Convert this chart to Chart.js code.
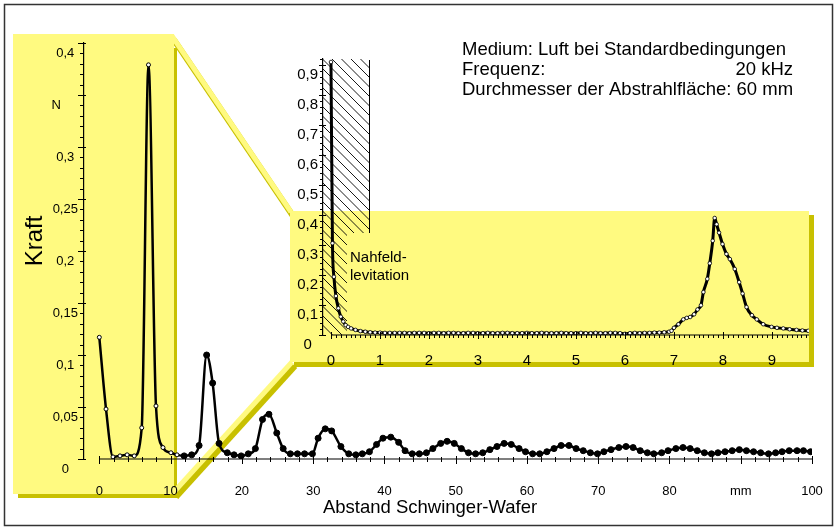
<!DOCTYPE html>
<html><head><meta charset="utf-8">
<script src="https://cdn.jsdelivr.net/npm/chart.js@4"></script>
<style>
html,body{margin:0;padding:0;background:#fff;}
#wrap{position:relative;width:835px;height:527px;overflow:hidden;}
#main{position:absolute;left:0;top:0;}
#inset{position:absolute;left:280px;top:40px;}
</style></head><body>
<div id="wrap"><canvas id="main" width="835" height="527"></canvas><canvas id="inset" width="555" height="340"></canvas></div>
<script>
// ---- main chart data (mm, N) ----
const mainX = [0,0.94,1.92,2.9,3.9,4.9,5.95,6.9,7.95,8.93,10.05,10.9,11.9,12.96,14.0,15.06,15.9,16.8,17.96,18.9,19.9,20.9,21.9,22.9,23.8,24.9,25.8,26.8,27.8,28.8,29.9,30.7,31.7,32.6,33.9,35.0,36.0,36.9,37.9,38.9,39.8,40.9,42.0,42.9,43.9,44.9,45.9,46.8,47.9,48.8,49.8,50.8,51.8,52.8,53.8,54.8,55.8,56.8,57.8,58.9,59.8,60.8,61.8,62.8,63.8,64.8,65.9,66.9,67.9,68.9,69.9,70.8,71.8,72.9,73.9,74.9,75.9,76.9,77.8,78.9,79.8,80.9,81.9,82.9,83.9,84.9,85.9,86.8,87.8,88.8,89.8,90.8,91.8,92.8,93.9,94.9,95.8,96.8,97.9,98.8,99.8];
const mainY = [0.117,0.048,0.002,0.003,0.004,0.003,0.030,0.379,0.051,0.011,0.006,0.004,0.003,0.004,0.013,0.100,0.073,0.015,0.006,0.004,0.003,0.005,0.010,0.038,0.043,0.025,0.010,0.005,0.005,0.005,0.005,0.020,0.029,0.027,0.012,0.005,0.004,0.005,0.007,0.014,0.020,0.021,0.016,0.008,0.005,0.005,0.006,0.010,0.015,0.017,0.015,0.010,0.006,0.005,0.006,0.009,0.012,0.015,0.014,0.010,0.007,0.005,0.005,0.007,0.010,0.013,0.013,0.010,0.008,0.006,0.005,0.007,0.009,0.011,0.012,0.011,0.008,0.006,0.005,0.006,0.008,0.010,0.011,0.010,0.008,0.006,0.005,0.006,0.007,0.008,0.009,0.008,0.007,0.006,0.005,0.006,0.007,0.008,0.008,0.008,0.007];
const mainXTicks = [0,10,20,30,40,50,60,70,80,90,100];
const mainXLabels = ['0','10','20','30','40','50','60','70','80','mm','100'];
const mainYTicks = [0,0.05,0.1,0.15,0.2,0.25,0.3,0.35,0.4];
const mainYLabels = ['0','0,05','0,1','0,15','0,2','0,25','0,3','N     ','0,4'];

// ---- inset data ----
const insetX = [0,0.03,0.06,0.1,0.15,0.2,0.25,0.3,0.35,0.41,0.5,0.6,0.7,0.8,0.9,1.0,1.1,1.2,1.3,1.4,1.5,1.6,1.7,1.8,1.9,2.0,2.1,2.2,2.3,2.4,2.5,2.6,2.7,2.8,2.9,3.0,3.1,3.2,3.3,3.4,3.5,3.6,3.7,3.8,3.9,4.0,4.1,4.2,4.3,4.4,4.5,4.6,4.7,4.8,4.9,5.0,5.1,5.2,5.3,5.4,5.5,5.6,5.7,5.8,5.9,6.0,6.1,6.2,6.3,6.4,6.5,6.6,6.7,6.8,6.9,6.95,7.0,7.09,7.19,7.26,7.33,7.41,7.48,7.55,7.6,7.68,7.73,7.79,7.83,7.87,7.92,7.99,8.07,8.14,8.24,8.33,8.4,8.48,8.59,8.69,8.82,8.99,9.1,9.23,9.36,9.5,9.62,9.74];
const insetY = [0.91,0.306,0.194,0.13,0.089,0.061,0.045,0.033,0.027,0.022,0.017,0.013,0.011,0.009,
0.008,0.008,0.007,0.007,0.007,0.007,0.007,0.006,0.007,0.007,
0.007,0.006,0.007,0.007,0.006,0.007,0.007,0.006,0.006,0.007,
0.007,0.006,0.006,0.007,0.006,0.006,0.007,0.007,0.006,0.006,
0.006,0.007,0.006,0.006,0.007,0.006,0.006,0.006,0.007,0.006,
0.006,0.006,0.007,0.006,0.006,0.007,0.006,0.006,0.007,0.007,
0.006,0.004,0.006,0.007,0.006,0.007,0.007,0.008,0.008,0.009,
0.011,0.014,0.024,
0.036,0.052,0.057,0.060,0.069,0.085,0.099,0.143,0.187,0.239,0.314,0.39,0.369,0.341,0.303,0.270,0.253,0.220,0.176,0.138,0.093,0.066,0.052,0.036,0.027,0.024,0.022,0.019,0.017,0.015,0.014];
const insetXTicks = [0,1,2,3,4,5,6,7,8,9];
const insetXLabels = ['0','1','2','3','4','5','6','7','8','9'];
const insetYTicks = [0,0.1,0.2,0.3,0.4,0.5,0.6,0.7,0.8,0.9];
const insetYLabels = ['0','0,1','0,2','0,3','0,4','0,5','0,6','0,7','0,8','0,9'];

const infoLeft = ['Medium: Luft bei Standardbedingungen','Frequenz:','Durchmesser der Abstrahlfläche: 60 mm'];
const infoRight = ['','20 kHz',''];
const nearFieldLabel = ['Nahfeld-','levitation'];

const LIGHT = 'rgb(255,250,128)';
const DARK = 'rgb(200,192,0)';
const FONT = "'Liberation Sans', Arial, Helvetica, sans-serif";
Chart.defaults.font.family = FONT;
Chart.defaults.color = '#000';

const mainDecor = {
  id: 'mainDecor',
  beforeDraw(chart) {
    const c = chart.ctx;
    c.save();
    c.fillStyle = '#fff'; c.fillRect(0, 0, chart.width, chart.height);
    // shadows
    c.fillStyle = DARK;
    c.fillRect(18, 48, 159, 450);
    c.fillRect(294, 215, 520, 152);
    // connectors shadow
    c.strokeStyle = DARK; c.lineWidth = 6; c.lineCap = 'butt';
    c.beginPath(); c.moveTo(174, 40); c.lineTo(293, 216); c.stroke();
    c.beginPath(); c.moveTo(176, 497); c.lineTo(295, 366); c.stroke();
    // light boxes
    c.fillStyle = LIGHT;
    c.fillRect(13, 34, 161, 460);
    c.fillRect(290, 211, 519, 151);
    // connectors light
    c.strokeStyle = LIGHT; c.lineWidth = 5;
    c.beginPath(); c.moveTo(172, 36); c.lineTo(291, 212); c.stroke();
    c.beginPath(); c.moveTo(173, 493); c.lineTo(292, 362); c.stroke();
    // frame
    c.strokeStyle = '#333'; c.lineWidth = 1.5;
    c.strokeRect(4.5, 4.5, 828, 521);
    c.restore();
  },
  afterDraw(chart) {
    const c = chart.ctx, xs = chart.scales.x, ys = chart.scales.y;
    const y0 = ys.getPixelForValue(0), xl = chart.chartArea.left;
    c.save();
    c.strokeStyle = '#000'; c.lineWidth = 1.2;
    c.beginPath(); c.moveTo(xs.getPixelForValue(0), y0); c.lineTo(xs.getPixelForValue(100), y0); c.stroke();
    c.lineWidth = 1;
    for (let v = 0; v <= 100; v += 2) {
      const px = Math.round(xs.getPixelForValue(v)) + 0.5;
      const major = v % 10 === 0;
      c.beginPath(); c.moveTo(px, y0 - (major ? 3 : 2)); c.lineTo(px, y0 + (major ? 5 : 3)); c.stroke();
    }
    for (let k = 0; k <= 40; k++) {
      const py = Math.round(ys.getPixelForValue(k / 100)) + 0.5;
      const major = k % 5 === 0;
      c.beginPath(); c.moveTo(xl - (major ? 6 : 4), py); c.lineTo(xl + (major ? 2 : 0), py); c.stroke();
    }
    // info text
    c.fillStyle = '#000'; c.font = '18.5px ' + FONT; c.textBaseline = 'middle';
    const ly = [50, 70, 90];
    infoLeft.forEach((t, i) => { c.textAlign = 'left'; c.fillText(t, 462, ly[i]); });
    infoRight.forEach((t, i) => { if (t) { c.textAlign = 'right'; c.fillText(t, 793, ly[i]); } });
    c.restore();
  }
};

new Chart(document.getElementById('main'), {
  type: 'line',
  data: { datasets: [{
    data: mainX.map((x, i) => ({ x, y: mainY[i] })),
    borderColor: '#000', borderWidth: 2.5,
    cubicInterpolationMode: 'monotone',
    pointRadius: ctx => (ctx.raw && ctx.raw.x < 11.5 ? 2 : 3),
    pointBackgroundColor: ctx => (ctx.raw && ctx.raw.x < 11.5 ? '#fff' : '#000'),
    pointBorderColor: '#000', pointBorderWidth: 1
  }]},
  options: {
    responsive: false, animation: false,
    layout: { padding: { top: 43, right: 23, left: 0, bottom: 0 } },
    plugins: { legend: { display: false }, tooltip: { enabled: false } },
    scales: {
      x: {
        type: 'linear', min: -2.15, max: 100,
        afterFit: s => { s.height = 68; },
        afterBuildTicks: s => { s.ticks = mainXTicks.map(v => ({ value: v })); },
        grid: { display: false, drawTicks: true, tickLength: 25 },
        border: { display: false },
        ticks: { padding: 0, font: { size: 13 }, color: '#000', autoSkip: false, maxRotation: 0,
          callback: (v, i) => mainXLabels[i] },
        title: { display: true, text: 'Abstand Schwinger-Wafer       ', font: { size: 18.5 }, color: '#000', padding: { top: 0, bottom: 8 } }
      },
      y: {
        type: 'linear', min: 0, max: 0.4,
        afterFit: s => { s.width = 84; },
        afterBuildTicks: s => { s.ticks = mainYTicks.map(v => ({ value: v })); },
        grid: { display: false, drawTicks: false },
        border: { display: true, color: '#000', width: 1.2 },
        ticks: { padding: 5, crossAlign: 'center', labelOffset: 10, font: { size: 13 }, color: '#000', autoSkip: false,
          callback: (v, i) => mainYLabels[i] },
        title: { display: true, text: '   Kraft', font: { size: 24 }, color: '#000', padding: { top: 21, bottom: 0 } }
      }
    }
  },
  plugins: [mainDecor]
});

const insetDecor = {
  id: 'insetDecor',
  beforeDatasetsDraw(chart) {
    const c = chart.ctx, xs = chart.scales.x, ys = chart.scales.y, a = chart.chartArea;
    const left = a.left, top = a.top, bottom = a.bottom;
    const right = xs.getPixelForValue(0.78);
    const textTop = 193, textLeft = 67;
    c.save();
    c.beginPath();
    c.rect(left, top, right - left, textTop - top);
    c.rect(left, textTop, textLeft - left, bottom - textTop);
    c.clip();
    c.strokeStyle = '#000'; c.lineWidth = 0.9;
    const H = bottom - top;
    for (let k = -H; k < right - left + 10; k += 9.5) {
      c.beginPath(); c.moveTo(left + k, top); c.lineTo(left + k + H, top + H); c.stroke();
    }
    c.restore();
    c.save();
    c.strokeStyle = '#000'; c.lineWidth = 1;
    c.beginPath(); c.moveTo(Math.round(right) + 0.5, top + 1); c.lineTo(Math.round(right) + 0.5, textTop); c.stroke();
    c.fillStyle = '#000'; c.font = '15px ' + FONT; c.textBaseline = 'middle'; c.textAlign = 'left';
    c.fillText(nearFieldLabel[0], 70, 218);
    c.fillText(nearFieldLabel[1], 70, 236);
    c.restore();
  },
  afterDraw(chart) {
    const c = chart.ctx, xs = chart.scales.x, ys = chart.scales.y;
    const y0 = ys.getPixelForValue(0), xl = chart.chartArea.left;
    c.save();
    c.strokeStyle = '#000'; c.lineWidth = 1.2;
    c.beginPath(); c.moveTo(xs.getPixelForValue(0), y0); c.lineTo(chart.chartArea.right, y0); c.stroke();
    c.lineWidth = 1;
    for (let k = 0; k <= 97; k++) {
      const px = Math.round(xs.getPixelForValue(k / 10)) + 0.5;
      const major = k % 10 === 0;
      c.beginPath(); c.moveTo(px, y0 - (major ? 3 : 0)); c.lineTo(px, y0 + (major ? 4 : 3)); c.stroke();
    }
    for (let k = 0; k <= 46; k++) {
      const py = Math.round(ys.getPixelForValue(k / 50)) + 0.5;
      const major = k % 5 === 0;
      c.beginPath(); c.moveTo(xl - (major ? 4 : 3), py); c.lineTo(xl + (major ? 3 : 0), py); c.stroke();
    }
    c.restore();
  }
};

new Chart(document.getElementById('inset'), {
  type: 'line',
  data: { datasets: [{
    data: insetX.map((x, i) => ({ x, y: insetY[i] })),
    borderColor: '#000', borderWidth: 3,
    cubicInterpolationMode: 'monotone',
    pointRadius: 1.8, pointBackgroundColor: '#fff', pointBorderColor: '#000', pointBorderWidth: 0.8
  }]},
  options: {
    responsive: false, animation: false,
    layout: { padding: { top: 19, right: 26, left: 0, bottom: 0 } },
    plugins: { legend: { display: false }, tooltip: { enabled: false } },
    scales: {
      x: {
        type: 'linear', min: -0.163, max: 9.755,
        afterFit: s => { s.height = 45; },
        afterBuildTicks: s => { s.ticks = insetXTicks.map(v => ({ value: v })); },
        grid: { display: false, drawTicks: true, tickLength: 17 },
        border: { display: false },
        ticks: { padding: 0, font: { size: 15 }, color: '#000', autoSkip: false, maxRotation: 0,
          callback: (v, i) => insetXLabels[i] }
      },
      y: {
        type: 'linear', min: 0, max: 0.92,
        afterFit: s => { s.width = 43; },
        afterBuildTicks: s => { s.ticks = insetYTicks.map(v => ({ value: v })); },
        grid: { display: false, drawTicks: false },
        border: { display: true, color: '#000', width: 1.2 },
        ticks: { padding: 5, crossAlign: 'center', labelOffset: 10, font: { size: 15 }, color: '#000', autoSkip: false,
          callback: (v, i) => insetYLabels[i] }
      }
    }
  },
  plugins: [insetDecor]
});
</script>
</body></html>
